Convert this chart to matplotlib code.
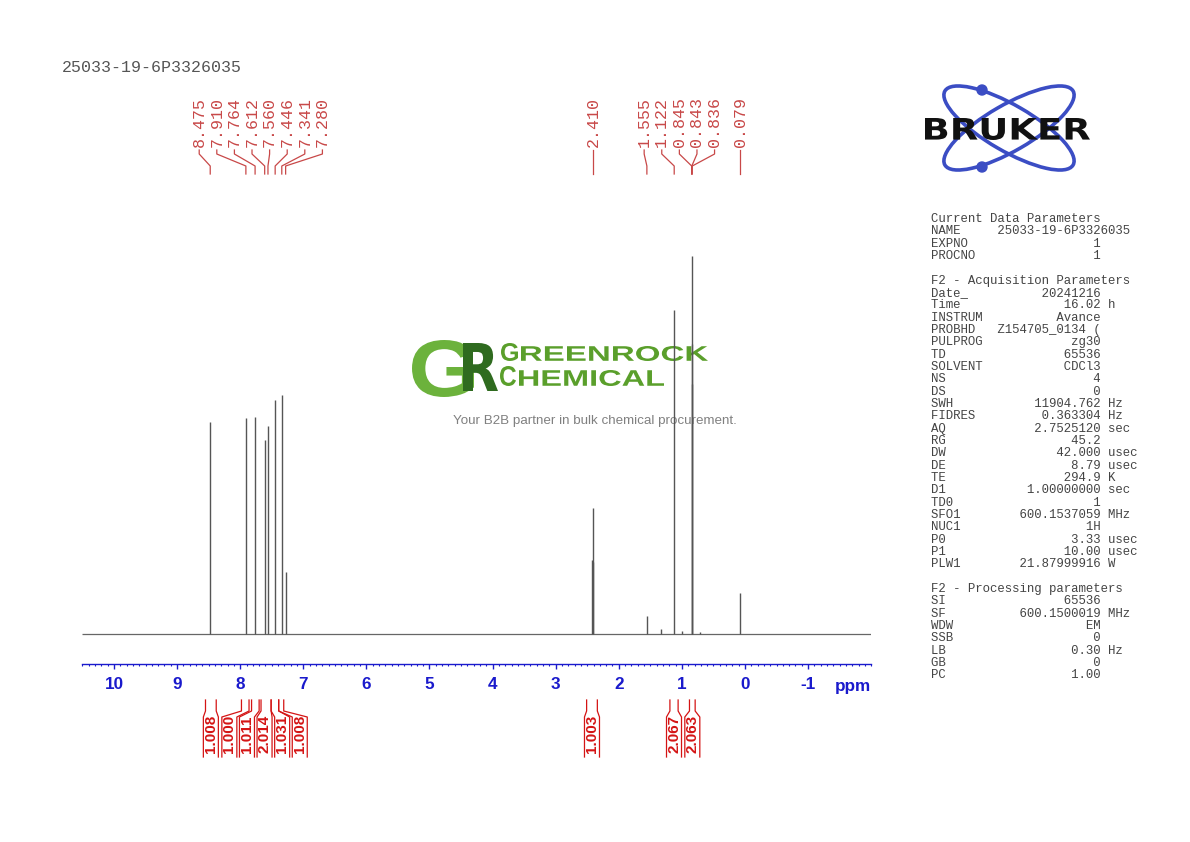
import numpy as np
import matplotlib.pyplot as plt
from matplotlib.patches import Ellipse, Circle, PathPatch
from matplotlib.textpath import TextPath
from matplotlib.font_manager import FontProperties
from matplotlib.transforms import Affine2D
from matplotlib.ticker import MultipleLocator

W, H = 1190, 842

# labelled peaks (ppm) and their heights above the baseline
peak_ppm = [8.475, 7.910, 7.764, 7.612, 7.560, 7.446, 7.341, 7.280,
            2.410, 1.555, 1.122, 0.845, 0.843, 0.836, 0.079]
peak_height = [212, 216, 217, 194, 208, 234, 239, 62,
               126, 18, 324, 290, 378, 250, 41]

# small unlabelled lines
minor_ppm = [2.418, 2.402, 1.330, 1.000, 0.720]
minor_height = [74, 72, 5, 3, 2]

# integral regions
int_lo = [8.55, 7.98, 7.82, 7.67, 7.51, 7.39, 2.51, 1.19, 0.88]
int_hi = [8.38, 7.86, 7.70, 7.51, 7.39, 7.31, 2.34, 1.06, 0.79]
int_val = ['1.008', '1.000', '1.011', '2.014', '1.031', '1.008',
           '1.003', '2.067', '2.063']

ppm_ticks = list(range(-1, 11))

sample_name = '25033-19-6P3326035'

params = [
    ('Current Data Parameters', None, None),
    ('NAME', sample_name, ''),
    ('EXPNO', '1', ''),
    ('PROCNO', '1', ''),
    None,
    ('F2 - Acquisition Parameters', None, None),
    ('Date_', '20241216', ''),
    ('Time', '16.02', 'h'),
    ('INSTRUM', 'Avance', ''),
    ('PROBHD', 'Z154705_0134 (', ''),
    ('PULPROG', 'zg30', ''),
    ('TD', '65536', ''),
    ('SOLVENT', 'CDCl3', ''),
    ('NS', '4', ''),
    ('DS', '0', ''),
    ('SWH', '11904.762', 'Hz'),
    ('FIDRES', '0.363304', 'Hz'),
    ('AQ', '2.7525120', 'sec'),
    ('RG', '45.2', ''),
    ('DW', '42.000', 'usec'),
    ('DE', '8.79', 'usec'),
    ('TE', '294.9', 'K'),
    ('D1', '1.00000000', 'sec'),
    ('TD0', '1', ''),
    ('SFO1', '600.1537059', 'MHz'),
    ('NUC1', '1H', ''),
    ('P0', '3.33', 'usec'),
    ('P1', '10.00', 'usec'),
    ('PLW1', '21.87999916', 'W'),
    None,
    ('F2 - Processing parameters', None, None),
    ('SI', '65536', ''),
    ('SF', '600.1500019', 'MHz'),
    ('WDW', 'EM', ''),
    ('SSB', '0', ''),
    ('LB', '0.30', 'Hz'),
    ('GB', '0', ''),
    ('PC', '1.00', ''),
]

BLUE = '#1a1acc'
PEAK_RED = '#c84848'
INT_RED = '#d41414'
MONO = 'Liberation Mono'
SANS = 'Liberation Sans'

fig = plt.figure(figsize=(W / 100, H / 100), dpi=100)

# full-figure overlay in pixel units (y down) for annotations
over = fig.add_axes([0, 0, 1, 1], zorder=0)
over.set_xlim(0, W)
over.set_ylim(H, 0)
over.axis('off')

# spectrum axes
x_left, x_right, y_axis, y_top = 82.45, 871.2, 664, 200
ax = fig.add_axes([x_left / W, 1 - y_axis / H, (x_right - x_left) / W, (y_axis - y_top) / H], zorder=1)
ax.patch.set_alpha(0)
ax.set_xlim(10.5, -2.0)
ax.set_ylim(-30, 434)
for s in ['left', 'right', 'top']:
    ax.spines[s].set_visible(False)
ax.spines['bottom'].set_color(BLUE)
ax.spines['bottom'].set_linewidth(1.0)
ax.set_yticks([])
ax.set_xticks(ppm_ticks)
ax.set_xticklabels([str(t) for t in ppm_ticks])
ax.xaxis.set_minor_locator(MultipleLocator(0.1))
ax.tick_params(axis='x', which='major', direction='out', length=3.6, width=1,
               color=BLUE, labelcolor=BLUE, labelsize=12.3, pad=5.5)
ax.tick_params(axis='x', which='minor', direction='out', length=1.5, width=0.8, color=BLUE)
for lab in ax.get_xticklabels():
    lab.set_fontweight('bold')
    lab.set_family(SANS)

ax.hlines(0, 10.5, -2.0, color='#666666', lw=0.9)
ax.vlines(peak_ppm, 0, peak_height, color='#555555', lw=1.0)
ax.vlines(minor_ppm, 0, minor_height, color='#555555', lw=1.0)

over.text(853, 686, 'ppm', color=BLUE, fontsize=12.3, fontweight='bold', family=SANS,
          ha='center', va='center')


def ppm2px(p):
    return ax.transData.transform((p, 0))[0]


def spread(xs, gap):
    # move labels apart into centred clusters
    clusters = [[i] for i in range(len(xs))]
    centers = list(xs)
    merged = True
    while merged:
        merged = False
        for k in range(len(clusters) - 1):
            end1 = centers[k] + (len(clusters[k]) - 1) * gap / 2
            start2 = centers[k + 1] - (len(clusters[k + 1]) - 1) * gap / 2
            if start2 - end1 < gap:
                idx = clusters[k] + clusters[k + 1]
                clusters[k:k + 2] = [idx]
                centers[k:k + 2] = [np.mean([xs[i] for i in idx])]
                merged = True
                break
    out = [0] * len(xs)
    for cl, c in zip(clusters, centers):
        for j, i in enumerate(cl):
            out[i] = c + (j - (len(cl) - 1) / 2) * gap
    return out


# peak labels on top
peak_px = [ppm2px(p) for p in peak_ppm]
label_px = spread(peak_px, 17.6)
for p, px, lx in zip(peak_ppm, peak_px, label_px):
    over.plot([lx, lx, px, px], [150, 154, 166, 174], color=PEAK_RED, lw=0.9)
    over.text(lx, 147, '%.3f' % p, rotation=90, ha='center', va='bottom',
              fontsize=12, family=MONO, color=PEAK_RED)

# integrals below the axis
int_mid = [(ppm2px(a) + ppm2px(b)) / 2 for a, b in zip(int_lo, int_hi)]
int_lx = spread(int_mid, 17.6)
for a, b, v, lx in zip(int_lo, int_hi, int_val, int_lx):
    pa, pb = ppm2px(a), ppm2px(b)
    over.plot([pa, pa, lx - 7.5, lx - 7.5], [700, 711, 717, 757], color=INT_RED, lw=0.9)
    over.plot([pb, pb, lx + 7.5, lx + 7.5], [700, 711, 717, 757], color=INT_RED, lw=0.9)
    over.text(lx, 734, v, rotation=90, ha='center', va='center', fontsize=11,
              fontweight='bold', family=SANS, color=INT_RED)

# title
over.text(62, 72.5, sample_name, fontsize=12, family=MONO, color='#555555', va='baseline')

# parameter panel
for i, row in enumerate(params):
    if row is None:
        continue
    name, val, unit = row
    if val is None:
        line = name
    else:
        line = f'{name:<9}{val:>14}' + (' ' + unit if unit else '')
    over.text(931, 222 + 12.33 * i, line, fontsize=8.9, family=MONO, color='#444444',
              va='baseline', ha='left')


def box_text(s, x0, x1, ytop, ybot, color, weight='bold', family='DejaVu Sans', z=2):
    tp = TextPath((0, 0), s, size=100, prop=FontProperties(family=family, weight=weight))
    ext = tp.get_extents()
    sx = (x1 - x0) / ext.width
    sy = (ybot - ytop) / ext.height
    tr = Affine2D().translate(-ext.x0, -ext.y0).scale(sx, -sy).translate(x0, ybot)
    over.add_patch(PathPatch(tp, fc=color, ec='none', transform=tr + over.transData, zorder=z))


# Bruker logo
LOGO_BLUE = '#3b4dc4'
for ang in (30, -30):
    over.add_patch(Ellipse((1009, 128), 148, 46, angle=ang, fill=False, ec=LOGO_BLUE, lw=2.6, zorder=1))
over.add_patch(Circle((982, 90), 5, color=LOGO_BLUE, zorder=1))
over.add_patch(Circle((982, 167), 5, color=LOGO_BLUE, zorder=1))
box_text('BRUKER', 925, 1090, 118, 140, '#111111', weight='heavy', z=3)

# watermark
box_text('G', 412, 474, 340, 397, '#6cb23c', family=SANS, z=1)
box_text('R', 463, 498, 343, 391, '#2f6b1f', z=1)
GREEN = '#5a9f2b'
box_text('G', 501, 518, 343, 361, GREEN, weight='bold', family=SANS, z=1)
box_text('REENROCK', 521, 708, 346, 361, GREEN, weight='bold', family=SANS, z=1)
box_text('C', 500, 516, 366, 386, GREEN, weight='bold', family=SANS, z=1)
box_text('HEMICAL', 519, 664, 370, 386, GREEN, weight='bold', family=SANS, z=1)
over.text(594.5, 421, 'Your B2B partner in bulk chemical procurement.', ha='center', va='center',
          fontsize=9.6, family=SANS, color='#808080')

fig.savefig('out.png', dpi=100)
